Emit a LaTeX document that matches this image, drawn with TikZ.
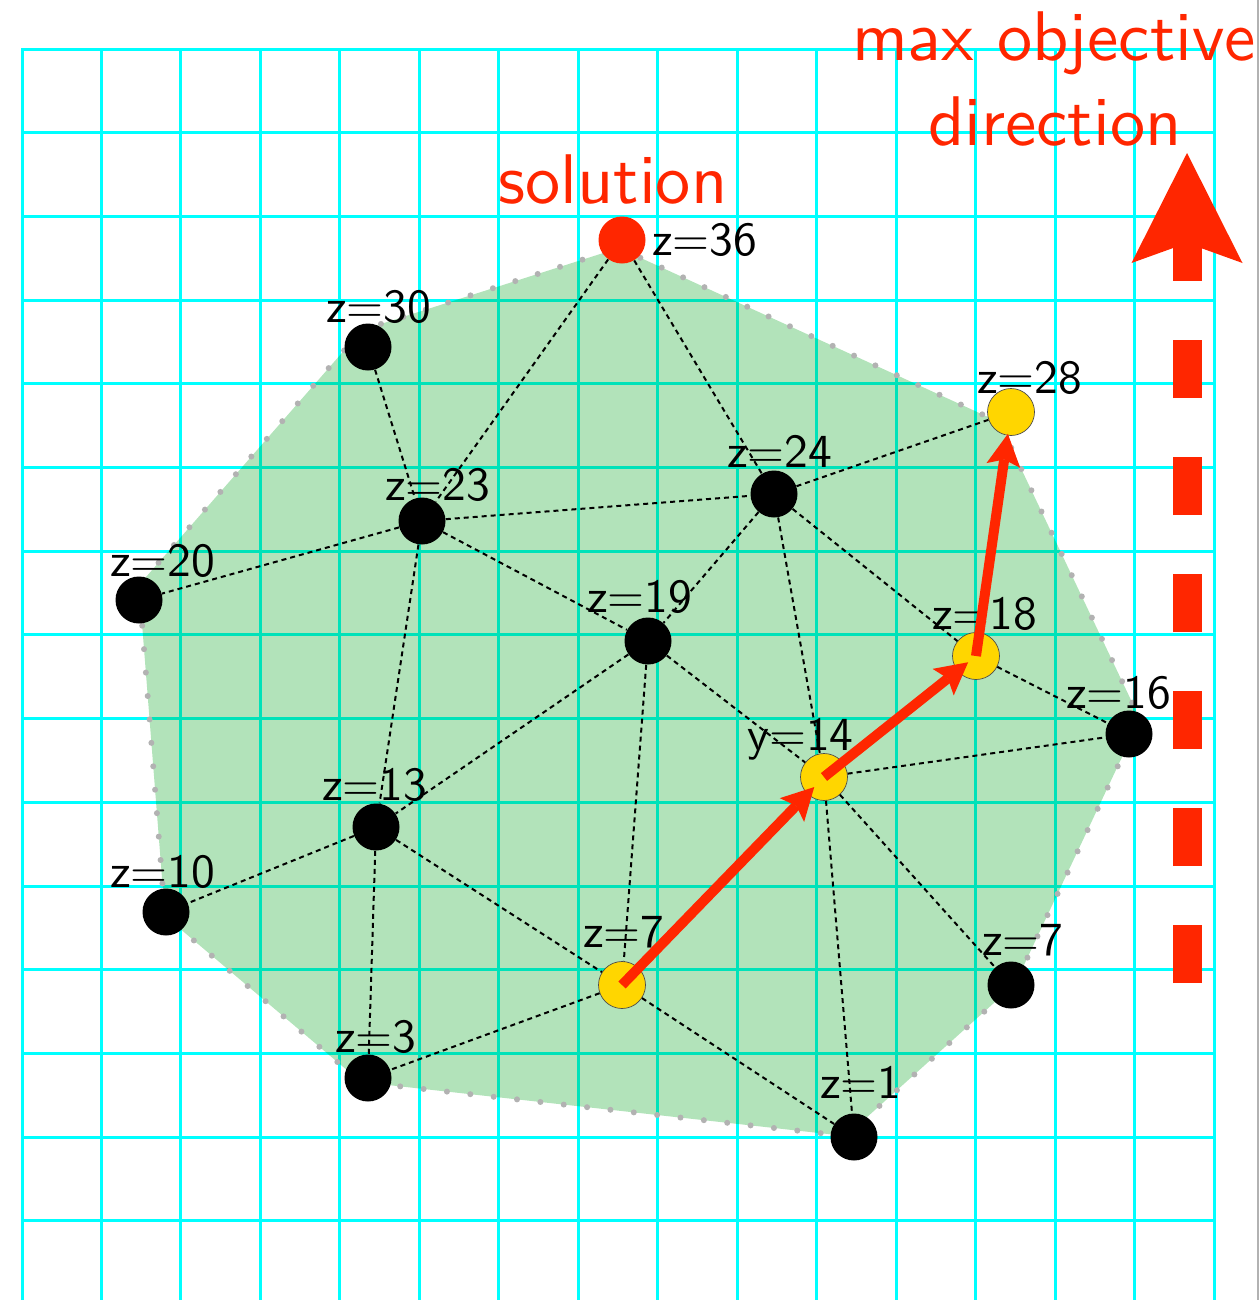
\documentclass[tikz,border=0pt]{standalone}
\usepackage{fontspec}
\usepackage{tikz}
\usetikzlibrary{arrows.meta}
\newfontfamily\lmsf{lmsans10-regular.otf}
\definecolor{solred}{RGB}{255,38,0}
\definecolor{ptyellow}{RGB}{255,214,0}
\definecolor{hullgreen}{RGB}{0,161,25}
\definecolor{gridcyan}{RGB}{0,255,255}
\begin{document}
\begin{tikzpicture}[x=0.2mm, y=-0.2mm,
  gridln/.style={gridcyan, line width=0.06cm, line cap=rect},
  hull/.style={fill=hullgreen, fill opacity=0.3, draw=gray!60, line width=0.12cm, line cap=round, dash pattern=on 0pt off 0.47cm},
  edge/.style={line width=0.04cm, dash pattern=on 0.1cm off 0.08cm},
  pt/.style={circle, fill=black, minimum size=0.94cm, inner sep=0pt},
  hpt/.style={pt, fill=ptyellow, draw=black!70, line width=0.4pt},
  lbl/.style={anchor=base west, inner sep=0pt, font=\lmsf\fontsize{27}{32}\selectfont},
  note/.style={anchor=base, inner sep=0pt, text=solred, font=\lmsf\fontsize{40}{48}\selectfont},
  walk/.style={solred, line width=0.2cm, -{Stealth[length=0.64cm, width=0.68cm, inset=0.12cm, line width=0pt]}},
  bigarrow/.style={solred, line width=0.58cm, dash pattern=on 1.16cm off 1.18cm, -{Stealth[length=2.2cm, width=2.22cm, inset=0.4cm, line width=0pt]}}]
  \useasboundingbox (0,0) rectangle (1260,1300);
  \foreach \i in {0,...,15}
    \draw[gridln] ({22+79.47*\i},49) -- ({22+79.47*\i},1300);
  \foreach \j in {0,...,14}
    \draw[gridln] (22,{49+83.7*\j}) -- (1214,{49+83.7*\j});
  \draw[gray!60, line width=0.04cm] (1258,0) -- (1258,1300);

  \path[hull] (619,248) -- (999,422) -- (1140,719) -- (1015,984) -- (846,1136)
    -- (361,1082) -- (165,916) -- (139,585) -- (362,330) -- cycle;

  \node[pt, fill=solred] (sol) at (622,240) {};
  \node[pt] (p30) at (368,347) {};
  \node[hpt] (p28) at (1011,412) {};
  \node[pt] (p24) at (774,494) {};
  \node[pt] (p23) at (422,521) {};
  \node[pt] (p20) at (139,600) {};
  \node[pt] (p19) at (648,641) {};
  \node[hpt] (p18) at (976,656) {};
  \node[pt] (p16) at (1129,734) {};
  \node[hpt] (p14) at (824,777) {};
  \node[pt] (p13) at (376,827) {};
  \node[pt] (p10) at (166,912) {};
  \node[hpt] (p7a) at (622,985) {};
  \node[pt] (p7b) at (1011,985) {};
  \node[pt] (p3) at (368,1078) {};
  \node[pt] (p1) at (854,1137) {};

  \foreach \a/\b in {sol/p23, sol/p24, p30/p23, p23/p20, p23/p24, p23/p19, p23/p13,
      p24/p28, p24/p19, p24/p18, p24/p14, p19/p13, p19/p7a, p19/p14, p18/p16,
      p14/p16, p14/p7b, p14/p1, p13/p10, p13/p3, p13/p7a, p7a/p3, p7a/p1}
    \draw[edge] (\a) -- (\b);

  \node[lbl] (l36) at (652,255) {z=36};
  \node[lbl] (l30) at (326,322) {z=30};
  \node[lbl] (l28) at (977,393) {z=28};
  \node[lbl] (l24) at (727,467) {z=24};
  \node[lbl] (l23) at (385,500) {z=23};
  \node[lbl] (l20) at (110,576) {z=20};
  \node[lbl] (l19) at (587,612) {z=19};
  \node[lbl] (l18) at (932,629) {z=18};
  \node[lbl] (l16) at (1066,708) {z=16};
  \node[lbl] (l14) at (747,750) {y=14};
  \node[lbl] (l13) at (322,800) {z=13};
  \node[lbl] (l10) at (110,887) {z=10};
  \node[lbl] (l7a) at (583,947) {z=7};
  \node[lbl] (l7b) at (982,955) {z=7};
  \node[lbl] (l3) at (335,1052) {z=3};
  \node[lbl] (l1) at (820,1098) {z=1};

  \node[note] (soltxt) at (613,203) {solution};
  \node[note] (objtxt) at (1054,60) {max objective};
  \node[note] (dirtxt) at (1055,145) {direction};

  \draw[walk, shorten >=0.28cm] (p7a.center) -- (p14.center);
  \draw[walk, shorten >=0.2cm] (p14.center) -- (p18.center);
  \draw[walk, shorten >=0.44cm] (p18.center) -- (p28.center);

  \coordinate (dirlow) at (1187,983);
  \coordinate (dirtip) at (1187,153);
  \draw[bigarrow] (dirlow) -- (dirtip);
\end{tikzpicture}
\end{document}
